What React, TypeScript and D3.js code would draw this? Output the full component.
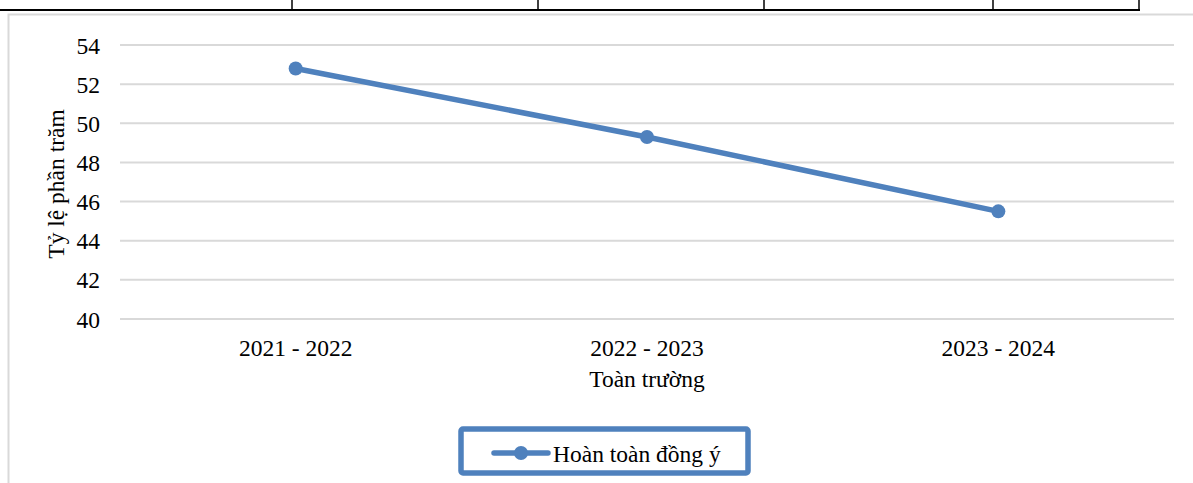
import * as d3 from "d3";

const categories = ["2021 - 2022", "2022 - 2023", "2023 - 2024"];
const seriesName = "Hoàn toàn đồng ý";
const values = [52.8, 49.3, 45.5];
const yTicks = [40, 42, 44, 46, 48, 50, 52, 54];
const tableCols = [292, 538, 764, 993, 1139];

const W = 1193;
const H = 483;
const BLUE = "#4F81BD";
const GRID = "#D9D9D9";
const FONT = "'Liberation Serif', 'Times New Roman', serif";

export default function App() {
  const x = d3.scaleBand<string>().domain(categories).range([120, 1174]);
  const y = d3.scaleLinear().domain([40, 54]).range([319, 45]);

  const line = d3
    .line<number>()
    .x((_, i) => x(categories[i])! + x.bandwidth() / 2)
    .y((v) => y(v));

  const legendX = 461;
  const legendY = 429;

  return (
    <svg
      width={W}
      height={H}
      style={{ position: "absolute", left: 0, top: 0, background: "#fff" }}
      fontFamily={FONT}
    >
      {/* table edge above the chart */}
      <line x1={0} x2={1140} y1={10} y2={10} stroke="#000" strokeWidth={2} />
      {tableCols.map((c) => (
        <line key={c} x1={c} x2={c} y1={0} y2={10} stroke="#000" strokeWidth={1.5} />
      ))}

      {/* chart frame */}
      <rect x={8.5} y={14.5} width={W} height={H} fill="none" stroke={GRID} strokeWidth={2} />

      {/* gridlines + y labels */}
      {yTicks.map((t) => (
        <g key={t}>
          <line x1={120} x2={1174} y1={y(t)} y2={y(t)} stroke={GRID} strokeWidth={2} />
          <text x={100} y={y(t) + 8.5} textAnchor="end" fontSize={23.5} fill="#000">
            {t}
          </text>
        </g>
      ))}

      {/* x labels */}
      {categories.map((c) => (
        <text
          key={c}
          x={x(c)! + x.bandwidth() / 2}
          y={356}
          textAnchor="middle"
          fontSize={23.5}
          fill="#000"
        >
          {c}
        </text>
      ))}

      <text x={647} y={387} textAnchor="middle" fontSize={23.5} fill="#000">
        Toàn trường
      </text>
      <text
        transform={`translate(64,184) rotate(-90)`}
        textAnchor="middle"
        fontSize={23.5}
        fill="#000"
      >
        Tỷ lệ phần trăm
      </text>

      {/* series */}
      <path d={line(values) ?? ""} fill="none" stroke={BLUE} strokeWidth={5.5} strokeLinecap="round" />
      {values.map((v, i) => (
        <circle
          key={i}
          cx={x(categories[i])! + x.bandwidth() / 2}
          cy={y(v)}
          r={7}
          fill={BLUE}
        />
      ))}

      {/* legend */}
      <rect
        x={legendX}
        y={legendY}
        width={287}
        height={44}
        rx={2}
        fill="#fff"
        stroke={BLUE}
        strokeWidth={5.5}
      />
      <line x1={legendX + 33} x2={legendX + 87} y1={453} y2={453} stroke={BLUE} strokeWidth={5.5} strokeLinecap="round" />
      <circle cx={legendX + 60} cy={453} r={7} fill={BLUE} />
      <text x={legendX + 92} y={461.5} fontSize={23.5} fill="#000">
        {seriesName}
      </text>
    </svg>
  );
}
